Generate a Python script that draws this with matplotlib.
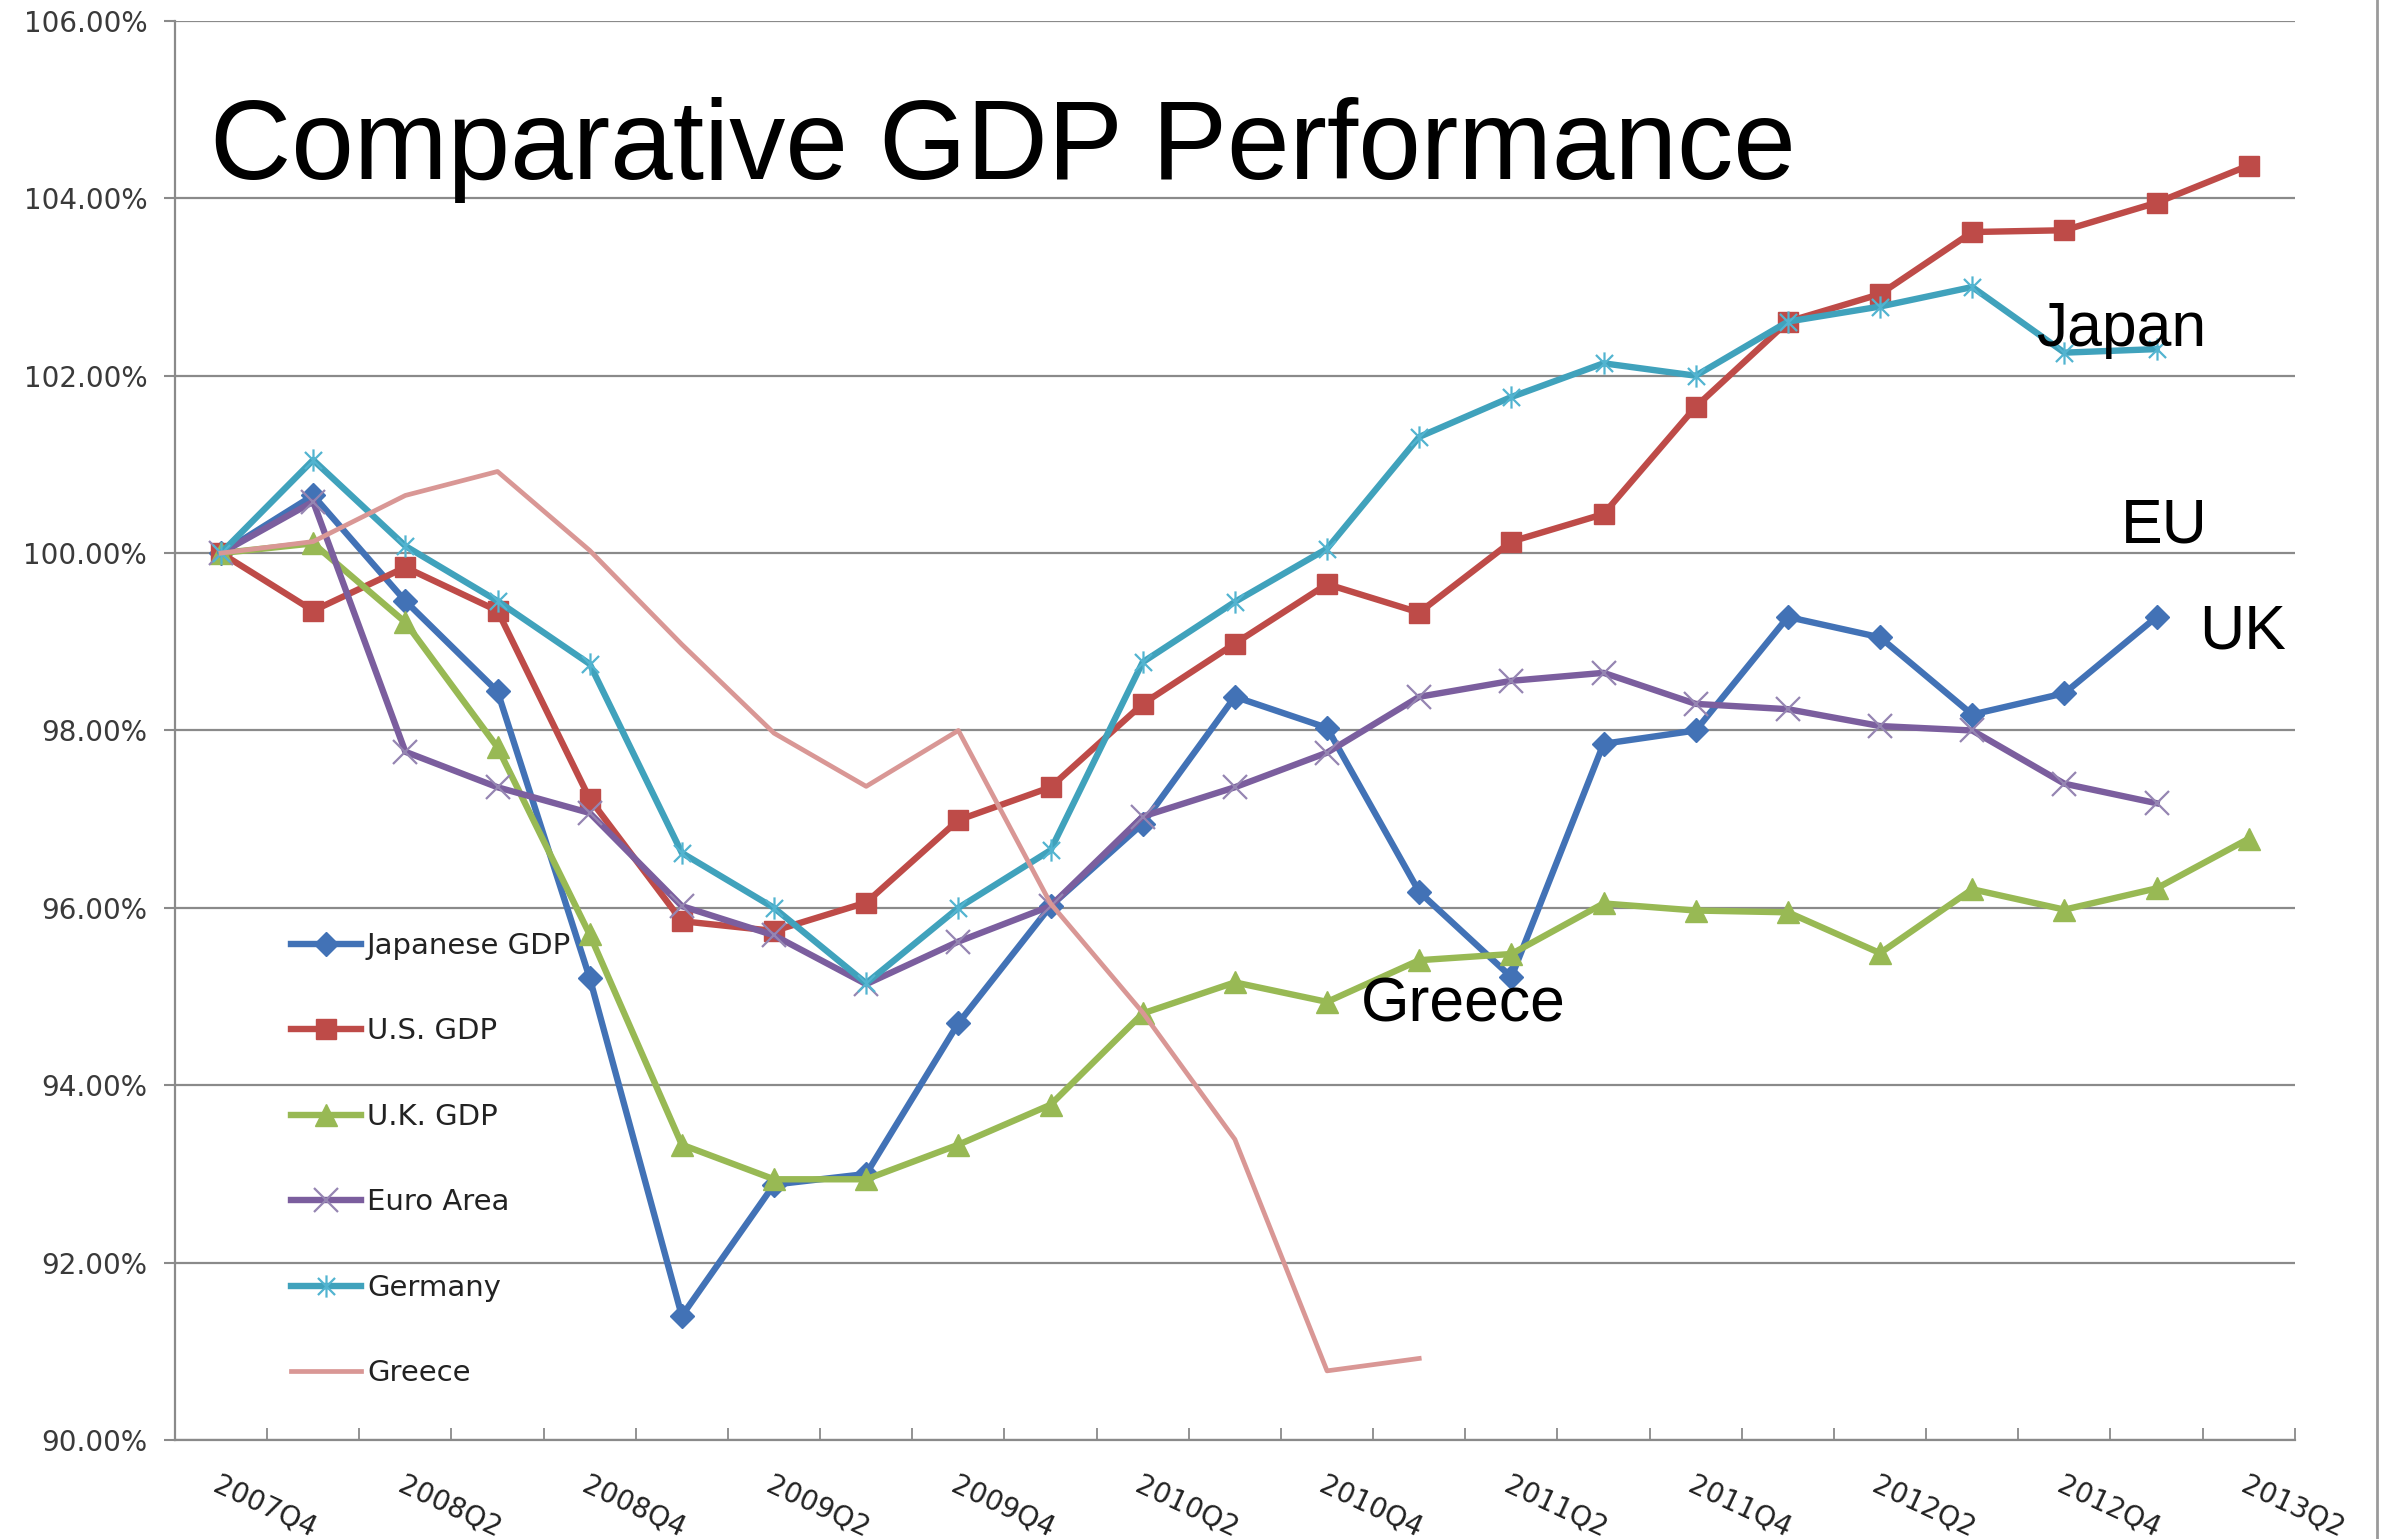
import numpy as np
import matplotlib.pyplot as plt
from matplotlib.path import Path
from matplotlib.lines import Line2D

# quarters 2007Q4 .. 2013Q2
quarters = ['2007Q4', '2008Q1', '2008Q2', '2008Q3', '2008Q4', '2009Q1', '2009Q2', '2009Q3',
            '2009Q4', '2010Q1', '2010Q2', '2010Q3', '2010Q4', '2011Q1', '2011Q2', '2011Q3',
            '2011Q4', '2012Q1', '2012Q2', '2012Q3', '2012Q4', '2013Q1', '2013Q2']

nan = np.nan
japan = [100.0, 100.65, 99.46, 98.44, 95.21, 91.40, 92.88, 93.00, 94.70, 96.02, 96.95, 98.38,
         98.03, 96.18, 95.22, 97.85, 98.00, 99.28, 99.05, 98.18, 98.42, 99.28, nan]
us = [100.0, 99.35, 99.84, 99.35, 97.23, 95.85, 95.74, 96.06, 96.99, 97.36, 98.30, 98.98,
      99.65, 99.33, 100.13, 100.44, 101.65, 102.61, 102.92, 103.62, 103.64, 103.95, 104.37]
uk = [100.0, 100.11, 99.22, 97.81, 95.70, 93.33, 92.94, 92.94, 93.33, 93.78, 94.81, 95.16,
      94.94, 95.41, 95.48, 96.05, 95.97, 95.95, 95.49, 96.21, 95.98, 96.22, 96.78]
euro = [100.0, 100.58, 97.76, 97.36, 97.07, 96.02, 95.69, 95.14, 95.62, 96.02, 97.03, 97.36,
        97.75, 98.38, 98.56, 98.65, 98.30, 98.24, 98.05, 98.00, 97.40, 97.18, nan]
germany = [100.0, 101.05, 100.08, 99.46, 98.75, 96.62, 96.00, 95.15, 96.00, 96.65, 98.77, 99.45,
           100.05, 101.31, 101.76, 102.14, 102.00, 102.61, 102.78, 103.00, 102.26, 102.30, nan]
greece = [100.0, 100.13, 100.65, 100.92, 100.03, 98.97, 97.97, 97.37, 98.00, 96.05, 94.82, 93.39,
          90.78, 90.92, nan, nan, nan, nan, nan, nan, nan, nan, nan]

# x with a vertical bar, like the Excel star marker
star = Path([(-1, -1), (1, 1), (-1, 1), (1, -1), (0, -1.3), (0, 1.3)],
            [Path.MOVETO, Path.LINETO, Path.MOVETO, Path.LINETO, Path.MOVETO, Path.LINETO])

fig = plt.figure(figsize=(23.83, 15.39), dpi=100)
ax = fig.add_axes([0.0734, 0.0643, 0.8896, 0.9221])

x = np.arange(len(quarters))
lw = 4.6
ax.plot(x, japan, color='#4272B6', lw=lw, marker='D', ms=12, label='Japanese GDP', zorder=3)
ax.plot(x, us, color='#BE4B48', lw=lw, marker='s', ms=15, label='U.S. GDP', zorder=3)
ax.plot(x, uk, color='#98B954', lw=lw, marker='^', ms=16, label='U.K. GDP', zorder=3)
ax.plot(x, euro, color='#7B5E9E', lw=lw, marker='x', ms=17, mew=1.6, mec='#9585B2',
        label='Euro Area', zorder=3)
ax.plot(x, germany, color='#40A2BC', lw=lw, marker=star, ms=16, mew=1.6, mfc='none',
        mec='#52B4D0', label='Germany', zorder=3)
ax.plot(x, greece, color='#D99795', lw=3.4, label='Greece', zorder=3)

ax.set_xlim(-0.5, len(quarters) - 0.5)
ax.set_ylim(90, 106)
ax.set_yticks(np.arange(90, 106.1, 2))
ax.set_yticklabels(['%.2f%%' % v for v in np.arange(90, 106.1, 2)], fontsize=20, color='#3a3a3a')
ax.grid(axis='y', color='#8a8a8a', lw=1.6)
ax.set_axisbelow(True)

ax.set_xticks(x[::2])
ax.set_xticklabels(quarters[::2], fontsize=20, color='#222222', rotation=-25,
                   ha='left', va='top', rotation_mode='anchor')
ax.set_xticks(np.arange(0.5, len(quarters), 1), minor=True)
ax.tick_params(axis='x', which='major', length=0, pad=22)
ax.tick_params(axis='x', which='minor', direction='in', length=9, width=1.3, color='#8a8a8a')
ax.tick_params(axis='y', direction='out', length=8, width=1.5, color='#8a8a8a', pad=12)

for s in ['top', 'right']:
    ax.spines[s].set_visible(False)
for s in ['left', 'bottom']:
    ax.spines[s].set_color('#8a8a8a')
    ax.spines[s].set_linewidth(1.6)

leg = ax.legend(loc='upper left', bbox_to_anchor=(0.0548, 0.358), frameon=False, fontsize=21,
                handlelength=2.4, handletextpad=0.2, labelspacing=1.97, borderaxespad=0,
                borderpad=0)
for t in leg.get_texts():
    t.set_color('#222222')

# big slide title and labels
ax.text(-0.12, 104.22, 'Comparative GDP Performance', fontsize=81, family='Liberation Sans',
        ha='left', va='baseline')
ax.text(19.69, 102.33, 'Japan', fontsize=45, family='Liberation Sans', ha='left', va='baseline')
ax.text(20.61, 100.12, 'EU', fontsize=45, family='Liberation Sans', ha='left', va='baseline')
ax.text(21.46, 98.92, 'UK', fontsize=45, family='Liberation Sans', ha='left', va='baseline')
ax.text(12.37, 94.72, 'Greece', fontsize=45, family='Liberation Sans', ha='left', va='baseline')

# frame edge at the right of the slide
fig.add_artist(Line2D([0.9975, 0.9975], [0, 1], transform=fig.transFigure, color='#9a9a9a', lw=2))

fig.savefig('out.png', dpi=100)
